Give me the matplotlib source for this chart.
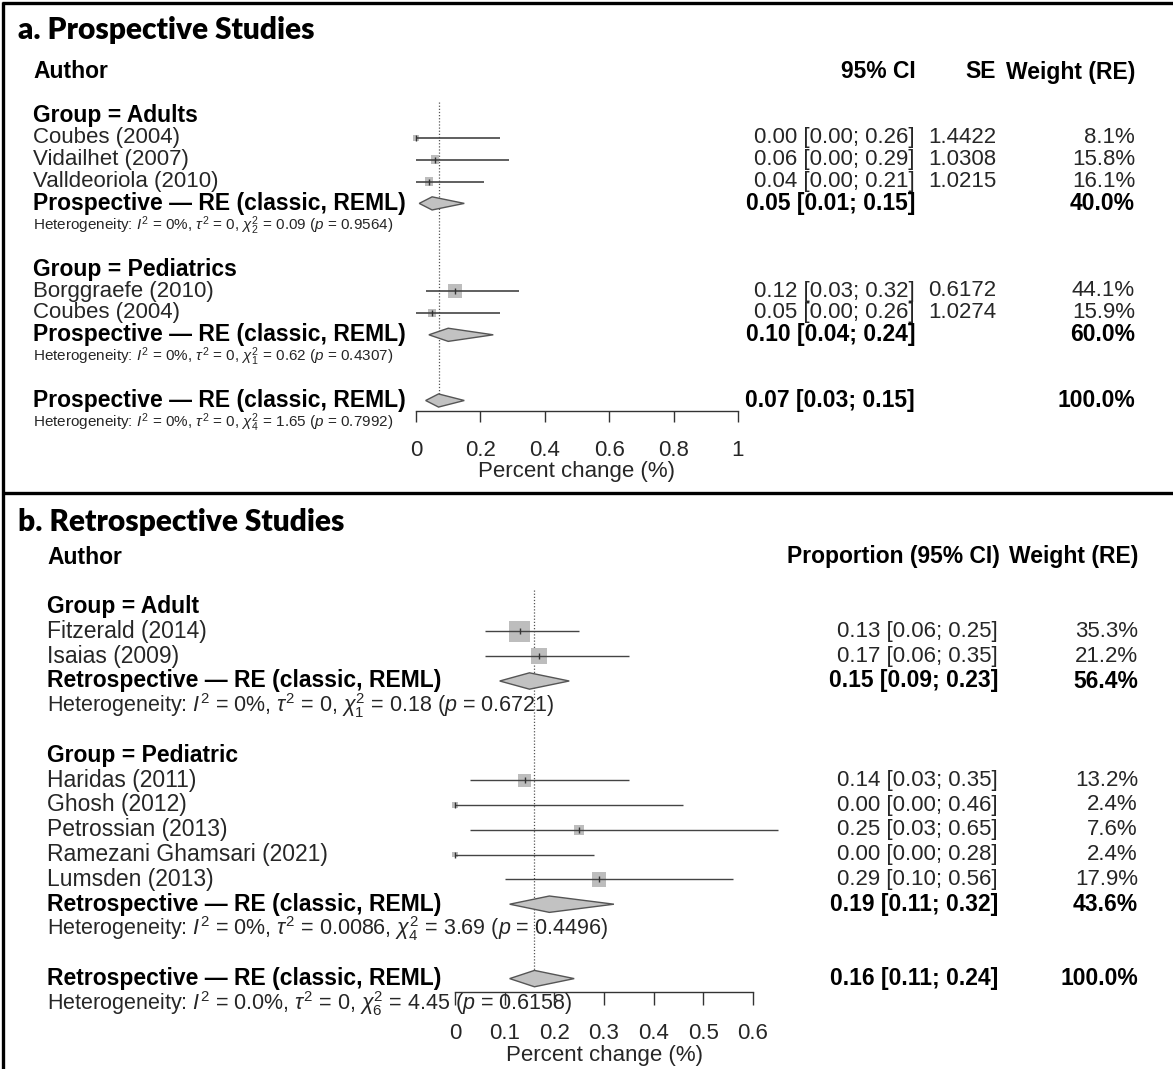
import numpy as np
import matplotlib
matplotlib.use("Agg")
import matplotlib.pyplot as plt
from matplotlib.lines import Line2D
from matplotlib.transforms import blended_transform_factory

plt.rcParams["font.family"] = ["Liberation Sans", "DejaVu Sans"]
plt.rcParams["mathtext.fontset"] = "custom"
plt.rcParams["mathtext.rm"] = "Liberation Sans"
plt.rcParams["mathtext.it"] = "Liberation Sans:italic"
plt.rcParams["mathtext.bf"] = "Liberation Sans:bold"

# ---------------- Prospective studies ----------------
pro_adult_authors = ["Coubes (2004)", "Vidailhet (2007)", "Valldeoriola (2010)"]
pro_adult_est = [0.00, 0.06, 0.04]
pro_adult_lo = [0.00, 0.00, 0.00]
pro_adult_hi = [0.26, 0.29, 0.21]
pro_adult_se = [1.4422, 1.0308, 1.0215]
pro_adult_w = [8.1, 15.8, 16.1]
pro_adult_sum = (0.05, 0.01, 0.15, 40.0)
pro_adult_het = r"Heterogeneity: $I^2$ = 0%, $\tau^2$ = 0, $\chi^2_2$ = 0.09 ($p$ = 0.9564)"

pro_ped_authors = ["Borggraefe (2010)", "Coubes (2004)"]
pro_ped_est = [0.12, 0.05]
pro_ped_lo = [0.03, 0.00]
pro_ped_hi = [0.32, 0.26]
pro_ped_se = [0.6172, 1.0274]
pro_ped_w = [44.1, 15.9]
pro_ped_sum = (0.10, 0.04, 0.24, 60.0)
pro_ped_het = r"Heterogeneity: $I^2$ = 0%, $\tau^2$ = 0, $\chi^2_1$ = 0.62 ($p$ = 0.4307)"

pro_all_sum = (0.07, 0.03, 0.15, 100.0)
pro_all_het = r"Heterogeneity: $I^2$ = 0%, $\tau^2$ = 0, $\chi^2_4$ = 1.65 ($p$ = 0.7992)"
pro_ticks = [0, 0.2, 0.4, 0.6, 0.8, 1]

# ---------------- Retrospective studies ----------------
ret_adult_authors = ["Fitzerald (2014)", "Isaias (2009)"]
ret_adult_est = [0.13, 0.17]
ret_adult_lo = [0.06, 0.06]
ret_adult_hi = [0.25, 0.35]
ret_adult_w = [35.3, 21.2]
ret_adult_sum = (0.15, 0.09, 0.23, 56.4)
ret_adult_het = r"Heterogeneity: $I^2$ = 0%, $\tau^2$ = 0, $\chi^2_1$ = 0.18 ($p$ = 0.6721)"

ret_ped_authors = ["Haridas (2011)", "Ghosh (2012)", "Petrossian (2013)",
                   "Ramezani Ghamsari (2021)", "Lumsden (2013)"]
ret_ped_est = [0.14, 0.00, 0.25, 0.00, 0.29]
ret_ped_lo = [0.03, 0.00, 0.03, 0.00, 0.10]
ret_ped_hi = [0.35, 0.46, 0.65, 0.28, 0.56]
ret_ped_w = [13.2, 2.4, 7.6, 2.4, 17.9]
ret_ped_sum = (0.19, 0.11, 0.32, 43.6)
ret_ped_het = r"Heterogeneity: $I^2$ = 0%, $\tau^2$ = 0.0086, $\chi^2_4$ = 3.69 ($p$ = 0.4496)"

ret_all_sum = (0.16, 0.11, 0.24, 100.0)
ret_all_het = r"Heterogeneity: $I^2$ = 0.0%, $\tau^2$ = 0, $\chi^2_6$ = 4.45 ($p$ = 0.6158)"
ret_ticks = [0, 0.1, 0.2, 0.3, 0.4, 0.5, 0.6]

W, H = 1173, 1069
fig = plt.figure(figsize=(W / 100, H / 100), dpi=100)
fig.patch.set_facecolor("white")


def fx(px):
    return px / W


def fy(py):
    return 1 - py / H


TXT = "#262626"
LINE = "#444444"
SQ = "#bdbdbd"
DIA = "#c2c2c2"
BFS = 16.5  # bold label size


def ci_text(e, lo, hi):
    return f"{e:.2f} [{lo:.2f}; {hi:.2f}]"


def make_axes(x0, x1, y_axis, y_top, row0, step, xmax, ticks, tick_len, fs):
    ax = fig.add_axes([fx(x0), fy(y_axis), (x1 - x0) / W, (y_axis - y_top) / H])
    ax.set_xlim(0, xmax)
    ax.set_ylim((y_axis - row0) / step, (y_top - row0) / step)
    for s in ["top", "left", "right"]:
        ax.spines[s].set_visible(False)
    ax.spines["bottom"].set_bounds(0, xmax)
    ax.spines["bottom"].set_linewidth(1.0)
    ax.spines["bottom"].set_color("#333333")
    ax.set_yticks([])
    ax.set_xticks(ticks)
    ax.set_xticklabels([f"{t:g}" for t in ticks])
    ax.tick_params(axis="x", direction="out", length=tick_len, width=1.0,
                   color="#333333", labelsize=fs, pad=13, labelcolor=TXT)
    ax.patch.set_alpha(0)
    return ax


def study(ax, row, e, lo, hi, w, k, lw):
    side_pt = k * np.sqrt(w) * 0.72
    ax.scatter([e], [row], marker="s", s=side_pt ** 2, color=SQ,
               edgecolors="none", zorder=2, clip_on=False)
    ax.hlines(row, lo, hi, color=LINE, lw=lw, zorder=3, clip_on=False)
    ax.plot([e], [row], marker="|", ms=4, mew=1, color="#333333", zorder=4,
            clip_on=False)


def diamond(ax, row, e, lo, hi, h):
    ax.fill([lo, e, hi, e], [row, row - h, row, row + h], facecolor=DIA,
            edgecolor="#555555", lw=1.0, zorder=3, clip_on=False)


# ======================= Panel a =======================
fig.text(fx(18), fy(30), "a. Prospective Studies", family="Lato",
         weight="heavy", fontsize=21.5, va="center", ha="left", color="black")

axa = make_axes(416, 738, 411, 60, 72, 21.9, 1.0, pro_ticks, 8, 16)
ta = blended_transform_factory(fig.transFigure, axa.transData)
FS = 16
LX = 33


def tput(ax, tr, px, row, s, **kw):
    kw.setdefault("fontsize", FS)
    kw.setdefault("color", TXT)
    if kw.get("weight") == "bold" and kw["fontsize"] == FS:
        kw["fontsize"] = BFS
    ax.text(fx(px), row, s, transform=tr, va="center", clip_on=False, **kw)


tput(axa, ta, LX, 0, "Author", weight="bold", color="black")
tput(axa, ta, 916, 0, "95% CI", weight="bold", color="black", ha="right")
tput(axa, ta, 996, 0, "SE", weight="bold", color="black", ha="right")
tput(axa, ta, 1135, 0, "Weight (RE)", weight="bold", color="black", ha="right")

pro_groups = [
    ("Group = Adults", 2, pro_adult_authors, pro_adult_est, pro_adult_lo,
     pro_adult_hi, pro_adult_se, pro_adult_w, pro_adult_sum, pro_adult_het),
    ("Group = Pediatrics", 9, pro_ped_authors, pro_ped_est, pro_ped_lo,
     pro_ped_hi, pro_ped_se, pro_ped_w, pro_ped_sum, pro_ped_het),
]
for title, r0, names, est, lo, hi, se, w, sm, het in pro_groups:
    tput(axa, ta, LX, r0, title, weight="bold", color="black")
    for i in range(len(names)):
        r = r0 + 1 + i
        tput(axa, ta, LX, r, names[i])
        tput(axa, ta, 915, r, ci_text(est[i], lo[i], hi[i]), ha="right")
        tput(axa, ta, 996, r, f"{se[i]:.4f}", ha="right")
        tput(axa, ta, 1135, r, f"{w[i]:.1f}%", ha="right")
        study(axa, r, est[i], lo[i], hi[i], w[i], 2.1, 1.2)
    rs = r0 + 1 + len(names)
    tput(axa, ta, LX, rs, "Prospective \u2014 RE (classic, REML)", weight="bold",
         color="black")
    tput(axa, ta, 915, rs, ci_text(*sm[:3]), ha="right", weight="bold", color="black")
    tput(axa, ta, 1135, rs, f"{sm[3]:.1f}%", ha="right", weight="bold", color="black")
    diamond(axa, rs, sm[0], sm[1], sm[2], 0.3)
    tput(axa, ta, LX, rs + 1, het, fontsize=11)

tput(axa, ta, LX, 15, "Prospective \u2014 RE (classic, REML)", weight="bold",
     color="black")
tput(axa, ta, 915, 15, ci_text(*pro_all_sum[:3]), ha="right", weight="bold",
     color="black")
tput(axa, ta, 1135, 15, f"{pro_all_sum[3]:.1f}%", ha="right", weight="bold",
     color="black")
diamond(axa, 15, pro_all_sum[0], pro_all_sum[1], pro_all_sum[2], 0.3)
tput(axa, ta, LX, 16, pro_all_het, fontsize=11)
axa.vlines(pro_all_sum[0], 1.35, 14.7, colors="#555555", lw=0.9,
           linestyles=(0, (1, 1.5)), zorder=1)
fig.text(fx(577), fy(472), "Percent change (%)", fontsize=16, color=TXT,
         ha="center", va="center")

# ======================= Panel b =======================
fig.text(fx(18), fy(522), "b. Retrospective Studies", family="Lato",
         weight="heavy", fontsize=21.5, va="center", ha="left", color="black")

axb = make_axes(455, 753, 992, 545, 557, 24.8, 0.6, ret_ticks, 9, 16)
tb = blended_transform_factory(fig.transFigure, axb.transData)
LB = 47

tput(axb, tb, LB, 0, "Author", weight="bold", color="black")
tput(axb, tb, 1000, 0, "Proportion (95% CI)", weight="bold", color="black",
     ha="right")
tput(axb, tb, 1138, 0, "Weight (RE)", weight="bold", color="black", ha="right")

ret_groups = [
    ("Group = Adult", 2, ret_adult_authors, ret_adult_est, ret_adult_lo,
     ret_adult_hi, ret_adult_w, ret_adult_sum, ret_adult_het),
    ("Group = Pediatric", 8, ret_ped_authors, ret_ped_est, ret_ped_lo,
     ret_ped_hi, ret_ped_w, ret_ped_sum, ret_ped_het),
]
for title, r0, names, est, lo, hi, w, sm, het in ret_groups:
    tput(axb, tb, LB, r0, title, weight="bold", color="black")
    for i in range(len(names)):
        r = r0 + 1 + i
        tput(axb, tb, LB, r, names[i], fontsize=16.5)
        tput(axb, tb, 998, r, ci_text(est[i], lo[i], hi[i]), ha="right")
        tput(axb, tb, 1138, r, f"{w[i]:.1f}%", ha="right")
        study(axb, r, est[i], lo[i], hi[i], w[i], 3.5, 1.0)
    rs = r0 + 1 + len(names)
    tput(axb, tb, LB, rs, "Retrospective \u2014 RE (classic, REML)", weight="bold",
         color="black")
    tput(axb, tb, 998, rs, ci_text(*sm[:3]), ha="right", weight="bold", color="black")
    tput(axb, tb, 1138, rs, f"{sm[3]:.1f}%", ha="right", weight="bold", color="black")
    diamond(axb, rs, sm[0], sm[1], sm[2], 0.33)
    tput(axb, tb, LB, rs + 1, het, fontsize=15.5)

tput(axb, tb, LB, 17, "Retrospective \u2014 RE (classic, REML)", weight="bold",
     color="black")
tput(axb, tb, 998, 17, ci_text(*ret_all_sum[:3]), ha="right", weight="bold",
     color="black")
tput(axb, tb, 1138, 17, f"{ret_all_sum[3]:.1f}%", ha="right", weight="bold",
     color="black")
diamond(axb, 17, ret_all_sum[0], ret_all_sum[1], ret_all_sum[2], 0.33)
tput(axb, tb, LB, 18, ret_all_het, fontsize=15.5)
axb.vlines(ret_all_sum[0], 1.35, 16.65, colors="#555555", lw=0.9,
           linestyles=(0, (1, 1.5)), zorder=1)
fig.text(fx(604), fy(1055), "Percent change (%)", fontsize=16, color=TXT,
         ha="center", va="center")

# ---------------- panel frames ----------------
for xs, ys in [([2.5, 2.5], [1.5, H]), ([1.5, W], [2.5, 2.5]), ([1.5, W], [493, 493])]:
    fig.add_artist(Line2D([fx(x) for x in xs], [fy(y) for y in ys],
                          color="black", lw=2.4, solid_capstyle="butt"))

fig.savefig("out.png", dpi=100, facecolor="white")
